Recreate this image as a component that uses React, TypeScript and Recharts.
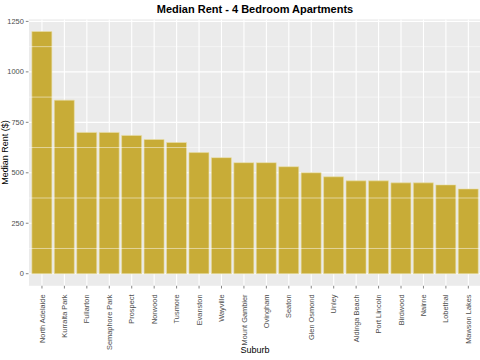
import { Bar, BarChart, CartesianGrid, ReferenceLine, XAxis, YAxis } from 'recharts';

const suburbs = [
  'North Adelaide',
  'Kurralta Park',
  'Fullarton',
  'Semaphore Park',
  'Prospect',
  'Norwood',
  'Tusmore',
  'Evanston',
  'Wayville',
  'Mount Gambier',
  'Ovingham',
  'Seaton',
  'Glen Osmond',
  'Unley',
  'Aldinga Beach',
  'Port Lincoln',
  'Birdwood',
  'Nairne',
  'Lobethal',
  'Mawson Lakes',
];
const rents = [1200, 860, 700, 700, 685, 665, 650, 600, 575, 550, 550, 530, 500, 480, 460, 460, 450, 450, 440, 420];
const yTicks = [0, 250, 500, 750, 1000, 1250];
const yMinor = [125, 375, 625, 875, 1125];

const FONT = '"Liberation Sans", Arial, sans-serif';

const chartData = suburbs.map((suburb, i) => ({ suburb, rent: rents[i] }));

function XTick(props: any) {
  const { x, y, payload } = props;
  return (
    <g transform={`translate(${x},${y})`}>
      <text
        transform="rotate(-90)"
        x={-4}
        y={0}
        dy="0.35em"
        textAnchor="end"
        fontSize={7.4}
        fill="#4D4D4D"
        fontFamily={FONT}
      >
        {payload.value}
      </text>
    </g>
  );
}

export default function App() {
  return (
    <div style={{ position: 'fixed', left: 0, top: 0, width: 480, height: 360, overflow: 'hidden', background: '#fff' }}>
      <BarChart
        width={490}
        height={360}
        data={chartData}
        margin={{ top: 19.4, right: 8.2, bottom: 0, left: 0 }}
        barCategoryGap="5%"
      >
        <text x={255} y={13} textAnchor="middle" fontSize={11} fontWeight="bold" fontFamily={FONT} fill="#000">
          Median Rent - 4 Bedroom Apartments
        </text>
        <text
          transform="translate(7.5,152.6) rotate(-90)"
          textAnchor="middle"
          fontSize={9}
          fontFamily={FONT}
          fill="#000"
        >
          Median Rent ($)
        </text>
        <text x={255} y={353} textAnchor="middle" fontSize={9} fontFamily={FONT} fill="#000">
          Suburb
        </text>
        <CartesianGrid fill="#EBEBEB" stroke="#FFFFFF" strokeWidth={1.1} horizontalValues={yTicks} />
        {yMinor.map((v) => (
          <ReferenceLine key={v} y={v} stroke="#FFFFFF" strokeWidth={0.5} ifOverflow="hidden" />
        ))}
        <XAxis
          dataKey="suburb"
          interval={0}
          height={74.2}
          padding={{ left: 2.24, right: 2.24 }}
          axisLine={false}
          tickLine={{ stroke: '#333333', strokeWidth: 0.6 }}
          tickSize={2.7}
          tick={<XTick />}
        />
        <YAxis
          type="number"
          width={28.5}
          domain={[-60, 1260]}
          ticks={yTicks}
          allowDataOverflow
          axisLine={false}
          tickLine={{ stroke: '#333333', strokeWidth: 0.6 }}
          tickSize={2.7}
          tick={{ fontSize: 7.4, fill: '#4D4D4D', fontFamily: FONT }}
        />
        <Bar dataKey="rent" fill="#C8AC37" stroke="#EADFAA" strokeWidth={0.6} isAnimationActive={false} />
      </BarChart>
    </div>
  );
}
